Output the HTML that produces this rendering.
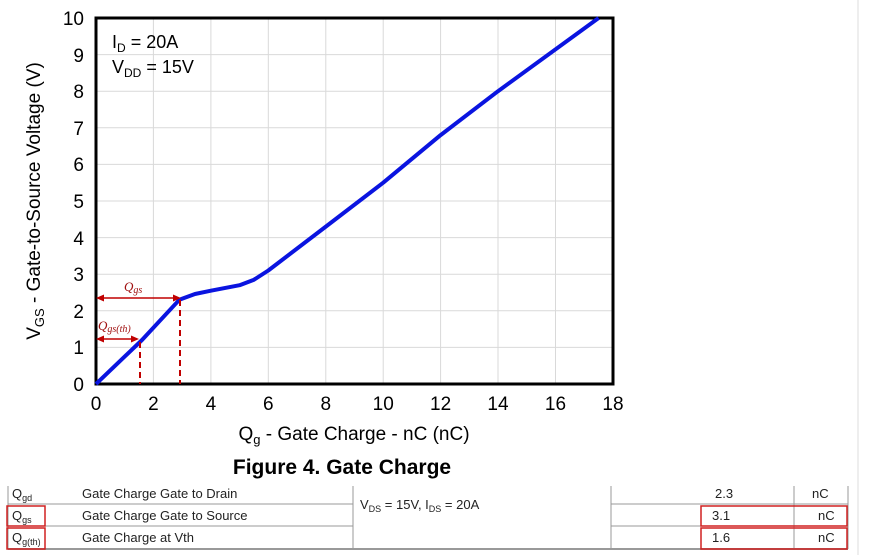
<!DOCTYPE html>
<html><head><style>
body{margin:0;background:#fff;width:871px;height:555px;overflow:hidden;font-family:"Liberation Sans",sans-serif}
</style></head><body>
<svg width="871" height="555" xmlns="http://www.w3.org/2000/svg" font-family="Liberation Sans, sans-serif">
<line x1="858" y1="0" x2="858" y2="555" stroke="#ddd"/>
<g stroke="#d9d9d9" stroke-width="1">
<line x1="153.4" y1="18" x2="153.4" y2="384"/><line x1="210.9" y1="18" x2="210.9" y2="384"/><line x1="268.3" y1="18" x2="268.3" y2="384"/><line x1="325.8" y1="18" x2="325.8" y2="384"/><line x1="383.2" y1="18" x2="383.2" y2="384"/><line x1="440.6" y1="18" x2="440.6" y2="384"/><line x1="498" y1="18" x2="498" y2="384"/><line x1="555.5" y1="18" x2="555.5" y2="384"/>
<line x1="96" y1="347.4" x2="613" y2="347.4"/><line x1="96" y1="310.8" x2="613" y2="310.8"/><line x1="96" y1="274.2" x2="613" y2="274.2"/><line x1="96" y1="237.6" x2="613" y2="237.6"/><line x1="96" y1="201" x2="613" y2="201"/><line x1="96" y1="164.4" x2="613" y2="164.4"/><line x1="96" y1="127.8" x2="613" y2="127.8"/><line x1="96" y1="91.2" x2="613" y2="91.2"/><line x1="96" y1="54.6" x2="613" y2="54.6"/>
</g>
<rect x="96" y="18" width="517" height="366" fill="none" stroke="#000" stroke-width="3"/>
<polyline fill="none" stroke="#0a14e0" stroke-width="4" stroke-linejoin="round" points="96,384 142,340 179.3,299.8 195,294 210.9,290.7 239.6,285.2 254,279.7 268.3,270.5 325.8,226.6 383.2,182.7 440.6,135.1 498,91.2 598.6,18"/>
<g stroke="#c00000" stroke-width="2" fill="none">
<line x1="140" y1="342" x2="140" y2="384" stroke-dasharray="6,4"/>
<line x1="180" y1="300" x2="180" y2="384" stroke-dasharray="6,4"/>
<line x1="98" y1="298" x2="178" y2="298" stroke-width="1.5"/>
<line x1="98" y1="339" x2="137" y2="339" stroke-width="1.5"/>
</g>
<g fill="#c00000">
<polygon points="96,298 104,294.5 104,301.5"/><polygon points="181,298 173,294.5 173,301.5"/>
<polygon points="96,339 104,335.5 104,342.5"/><polygon points="139,339 131,335.5 131,342.5"/>
</g>
<g fill="#a01010" font-family="Liberation Serif, serif" font-style="italic" font-size="13">
<text x="124" y="291">Q<tspan font-size="10" dy="2">gs</tspan></text>
<text x="98" y="330">Q<tspan font-size="10" dy="2">gs(th)</tspan></text>
</g>
<g font-size="19" fill="#000" text-anchor="end">
<text x="84" y="391">0</text><text x="84" y="354">1</text><text x="84" y="318">2</text><text x="84" y="281">3</text><text x="84" y="245">4</text><text x="84" y="208">5</text><text x="84" y="171">6</text><text x="84" y="135">7</text><text x="84" y="98">8</text><text x="84" y="62">9</text><text x="84" y="25">10</text>
</g>
<g font-size="19" fill="#000" text-anchor="middle">
<text x="96" y="410">0</text><text x="153.4" y="410">2</text><text x="210.9" y="410">4</text><text x="268.3" y="410">6</text><text x="325.8" y="410">8</text><text x="383.2" y="410">10</text><text x="440.6" y="410">12</text><text x="498" y="410">14</text><text x="555.5" y="410">16</text><text x="613" y="410">18</text>
<text x="354" y="440" font-size="19">Q<tspan font-size="13" dy="4">g</tspan><tspan dy="-4"> - Gate Charge - nC (nC)</tspan></text>
<text x="342" y="474" font-size="21" font-weight="bold">Figure 4. Gate Charge</text>
</g>
<text transform="translate(40,201) rotate(-90)" text-anchor="middle" font-size="19">V<tspan font-size="13" dy="4">GS</tspan><tspan dy="-4"> - Gate-to-Source Voltage (V)</tspan></text>
<g font-size="18"><text x="112" y="48">I<tspan font-size="12" dy="4">D</tspan><tspan dy="-4"> = 20A</tspan></text>
<text x="112" y="73">V<tspan font-size="12" dy="4">DD</tspan><tspan dy="-4"> = 15V</tspan></text></g>
<g stroke="#999" stroke-width="1">
<line x1="8" y1="486" x2="8" y2="549"/><line x1="353" y1="486" x2="353" y2="549"/><line x1="611" y1="486" x2="611" y2="549"/><line x1="794" y1="486" x2="794" y2="549"/><line x1="848" y1="486" x2="848" y2="549"/>
<line x1="8" y1="504" x2="353" y2="504"/><line x1="611" y1="504" x2="848" y2="504"/>
<line x1="8" y1="526" x2="353" y2="526"/><line x1="611" y1="526" x2="848" y2="526"/>
<line x1="8" y1="549" x2="848" y2="549" stroke-width="2"/>
</g>
<g font-size="13" fill="#222">
<text x="12" y="498">Q<tspan font-size="9" dy="3">gd</tspan></text><text x="82" y="498">Gate Charge Gate to Drain</text><text x="715" y="498">2.3</text><text x="812" y="498">nC</text>
<text x="12" y="520">Q<tspan font-size="9" dy="3">gs</tspan></text><text x="82" y="520">Gate Charge Gate to Source</text><text x="712" y="520">3.1</text><text x="818" y="520">nC</text>
<text x="12" y="542">Q<tspan font-size="9" dy="3">g(th)</tspan></text><text x="82" y="542">Gate Charge at Vth</text><text x="712" y="542">1.6</text><text x="818" y="542">nC</text>
<text x="360" y="509">V<tspan font-size="9" dy="3">DS</tspan><tspan dy="-3"> = 15V, I</tspan><tspan font-size="9" dy="3">DS</tspan><tspan dy="-3"> = 20A</tspan></text>
</g>
<g fill="none" stroke="#d02020" stroke-width="1.5">
<rect x="7" y="506" width="38" height="20"/><rect x="7" y="528" width="38" height="21"/>
<rect x="701" y="506" width="146" height="20"/><rect x="701" y="528" width="146" height="21"/>
</g>
</svg>
</body></html>
